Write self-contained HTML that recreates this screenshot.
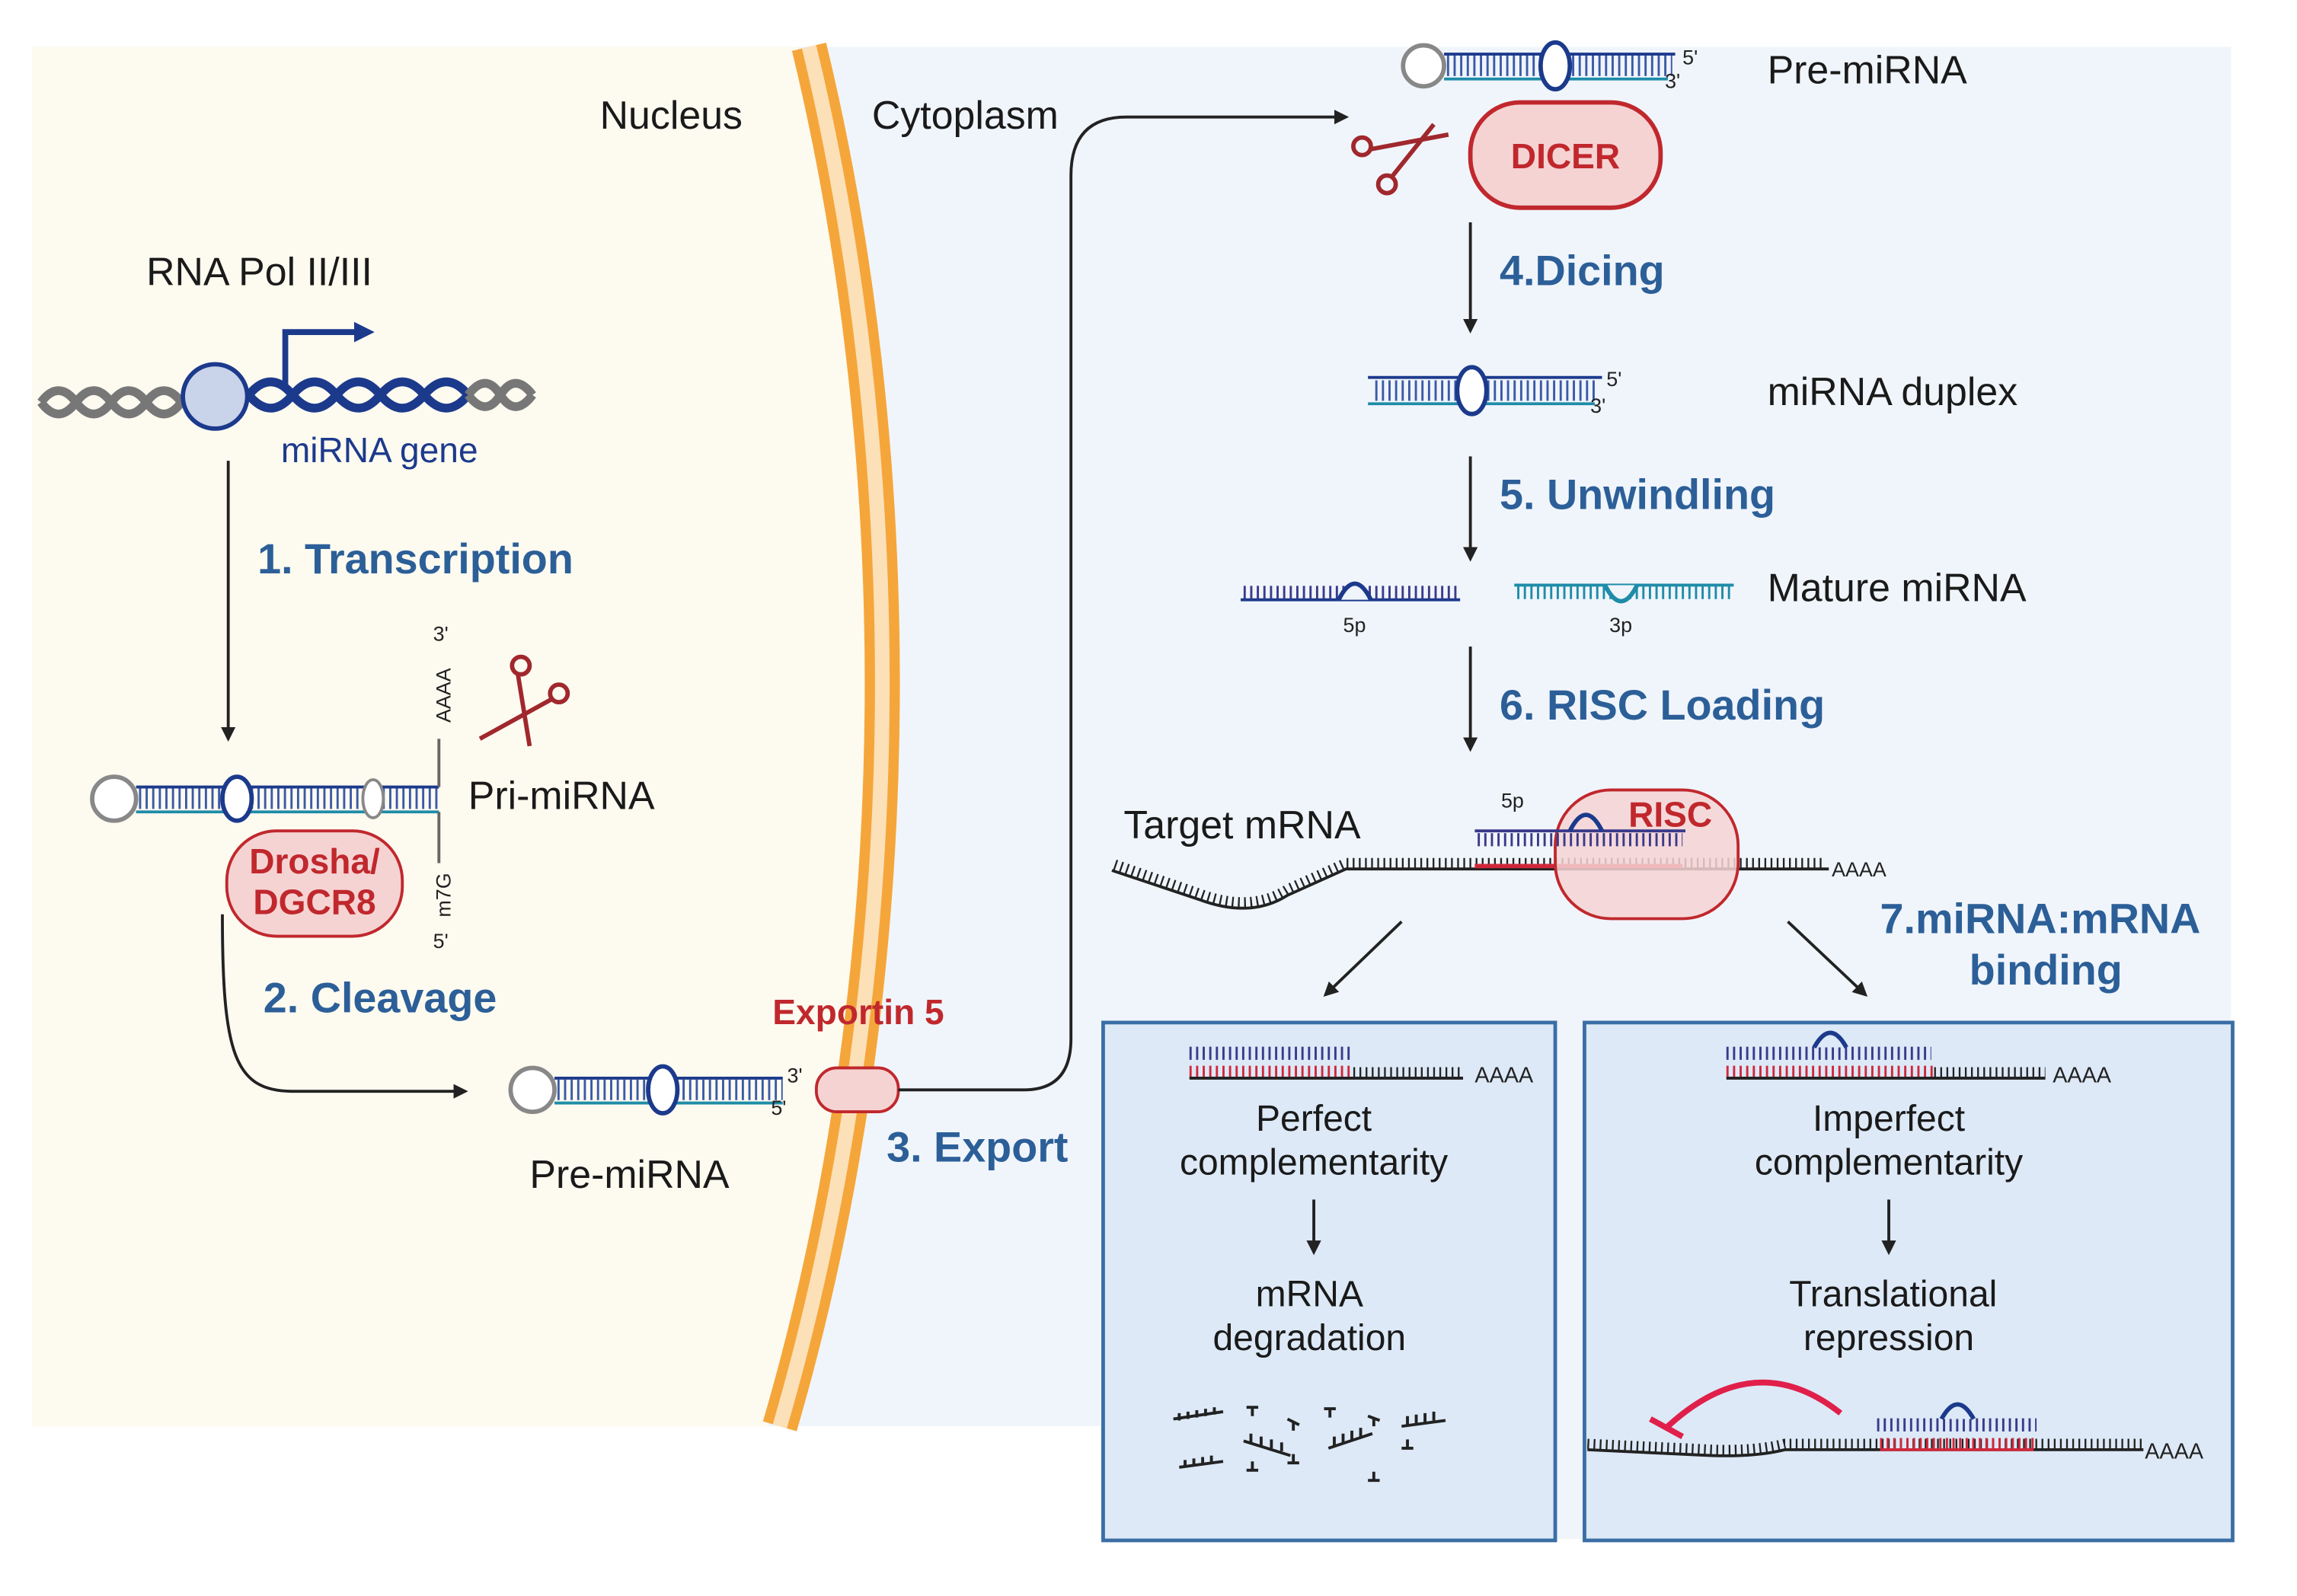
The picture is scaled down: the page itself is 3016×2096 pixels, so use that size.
<!DOCTYPE html>
<html><head><meta charset="utf-8">
<style>
html,body{margin:0;padding:0;background:#fff;}
svg{display:block;}
text{font-family:"Liberation Sans",sans-serif;}
.t{font-size:27px;fill:#1a1a1a;}
.s{font-size:29px;font-weight:bold;fill:#2c5f98;}
.r{font-size:24px;font-weight:bold;fill:#c0282d;}
.sm{font-size:14px;fill:#222;}
.bx{font-size:25px;fill:#1a1a1a;text-anchor:middle;}
</style></head>
<body>
<svg width="3016" height="2096" viewBox="0 0 1570 1091" preserveAspectRatio="none" xmlns="http://www.w3.org/2000/svg">
<defs>
<marker id="ah" markerWidth="10" markerHeight="10" refX="8" refY="5" orient="auto" markerUnits="userSpaceOnUse"><path d="M0,0 L10,5 L0,10 z" fill="#222"/></marker>
<marker id="bh" markerWidth="14" markerHeight="14" refX="6" refY="7" orient="auto" markerUnits="userSpaceOnUse"><path d="M0,0 L14,7 L0,14 z" fill="#1c3a8c"/></marker>
</defs>
<rect x="22" y="32" width="1503" height="1020" fill="#f0f5fb"/>
<path d="M22,32 L545,32 C610,300 620,650 525,975 L22,975 Z" fill="#fdfaf0"/>
<rect x="22" y="975" width="730" height="80" fill="#fff"/>
<rect x="1527" y="32" width="50" height="1030" fill="#fff"/>
<path d="M553,32 C618,300 628,650 533,975" fill="none" stroke="#f5a63a" stroke-width="24"/>
<path d="M553,32 C618,300 628,650 533,975" fill="none" stroke="#fce0b8" stroke-width="10"/>
<text class="t" x="410" y="88">Nucleus</text>
<text class="t" x="596" y="88">Cytoplasm</text>
<text class="t" x="100" y="195">RNA Pol II/III</text>
<path d="M28,275 q12,-16 24,0 t24,0 t24,0 t24,0 M28,275 q12,16 24,0 t24,0 t24,0 t24,0" fill="none" stroke="#777" stroke-width="6"/>
<path d="M170,270 q15,-18 30,0 t30,0 t30,0 t30,0 t30,0 M170,270 q15,18 30,0 t30,0 t30,0 t30,0 t30,0" fill="none" stroke="#1c3a8c" stroke-width="6"/>
<path d="M320,270 q12,-16 22,0 t22,0 M320,270 q12,16 22,0 t22,0" fill="none" stroke="#777" stroke-width="6"/>
<circle cx="147" cy="271" r="22" fill="#c9d3ea" stroke="#1c3a8c" stroke-width="3"/>
<path d="M195,265 L195,227 L248,227" fill="none" stroke="#1c3a8c" stroke-width="4" marker-end="url(#bh)"/>
<text x="192" y="316" style="font-size:24px;fill:#1c3a8c">miRNA gene</text>
<line x1="156" y1="315" x2="156" y2="505" stroke="#222" stroke-width="2" marker-end="url(#ah)"/>
<text class="s" x="176" y="392">1. Transcription</text>
<g>
<circle cx="78" cy="546" r="15" fill="#fff" stroke="#888" stroke-width="3"/>
<line x1="93" y1="538" x2="300" y2="538" stroke="#1c3a8c" stroke-width="2"/>
<line x1="93" y1="555" x2="300" y2="555" stroke="#1e8ca8" stroke-width="2"/>
<line x1="95" y1="546" x2="300" y2="546" stroke="#3a5aa8" stroke-width="14" stroke-dasharray="1.5 3"/>
<ellipse cx="162" cy="546" rx="10" ry="15" fill="#fff" stroke="#1c3a8c" stroke-width="3"/>
<ellipse cx="255" cy="546" rx="7" ry="13" fill="#fff" stroke="#888" stroke-width="2"/>
<line x1="300" y1="538" x2="300" y2="505" stroke="#666" stroke-width="2"/>
<line x1="300" y1="555" x2="300" y2="590" stroke="#666" stroke-width="2"/>
</g>
<text class="sm" x="296" y="438">3'</text>
<text class="sm" transform="translate(308,494) rotate(-90)">AAAA</text>
<text class="sm" transform="translate(308,627) rotate(-90)">m7G</text>
<text class="sm" x="296" y="648">5'</text>
<text class="t" x="320" y="553">Pri-miRNA</text>
<g stroke="#a0282d" stroke-width="3" fill="none"><circle cx="356" cy="455" r="6"/><circle cx="382" cy="474" r="6"/><line x1="354" y1="461" x2="362" y2="510"/><line x1="377" y1="478" x2="328" y2="505"/></g>
<rect x="155" y="568" width="120" height="72" rx="34" fill="#f6d3d3" stroke="#c0282d" stroke-width="2"/>
<text class="r" x="215" y="597" text-anchor="middle">Drosha/</text>
<text class="r" x="215" y="625" text-anchor="middle">DGCR8</text>
<path d="M152,625 C152,720 160,746 200,746 L318,746" fill="none" stroke="#222" stroke-width="2" marker-end="url(#ah)"/>
<text class="s" x="180" y="692">2. Cleavage</text>
<circle cx="364" cy="745" r="15" fill="#fff" stroke="#888" stroke-width="3"/>
<line x1="379" y1="737" x2="535" y2="737" stroke="#1c3a8c" stroke-width="2"/>
<line x1="379" y1="754" x2="535" y2="754" stroke="#1e8ca8" stroke-width="2"/>
<line x1="381" y1="745" x2="535" y2="745" stroke="#3a5aa8" stroke-width="14" stroke-dasharray="1.5 3"/>
<ellipse cx="453" cy="745" rx="10" ry="16" fill="#fff" stroke="#1c3a8c" stroke-width="3"/>
<text class="sm" x="538" y="740">3'</text><text class="sm" x="527" y="762">5'</text>
<text class="t" x="362" y="812">Pre-miRNA</text>
<text class="r" x="528" y="700">Exportin 5</text>
<rect x="558" y="730" width="56" height="30" rx="14" fill="#f6d3d3" stroke="#c0282d" stroke-width="2"/>
<path d="M614,745 L700,745 Q732,745 732,710 L732,120 Q732,80 770,80 L920,80" fill="none" stroke="#222" stroke-width="2" marker-end="url(#ah)"/>
<text class="s" x="606" y="794">3. Export</text>
<circle cx="973" cy="45" r="14" fill="#fff" stroke="#888" stroke-width="3"/>
<line x1="987" y1="37" x2="1145" y2="37" stroke="#1c3a8c" stroke-width="2"/>
<line x1="987" y1="54" x2="1140" y2="54" stroke="#1e8ca8" stroke-width="2"/>
<line x1="989" y1="45" x2="1143" y2="45" stroke="#3a5aa8" stroke-width="14" stroke-dasharray="1.5 3"/>
<ellipse cx="1063" cy="45" rx="10" ry="16" fill="#fff" stroke="#1c3a8c" stroke-width="3"/>
<text class="sm" x="1150" y="44">5'</text><text class="sm" x="1138" y="60">3'</text>
<text class="t" x="1208" y="57">Pre-miRNA</text>
<rect x="1005" y="70" width="130" height="72" rx="34" fill="#f6d3d3" stroke="#c0282d" stroke-width="3"/>
<text class="r" x="1070" y="115" text-anchor="middle">DICER</text>
<g stroke="#a0282d" stroke-width="3" fill="none"><circle cx="931" cy="100" r="6"/><circle cx="948" cy="126" r="6"/><line x1="937" y1="102" x2="990" y2="92"/><line x1="952" y1="120" x2="980" y2="85"/></g>
<line x1="1005" y1="152" x2="1005" y2="226" stroke="#222" stroke-width="2" marker-end="url(#ah)"/>
<text class="s" x="1025" y="195">4.Dicing</text>
<line x1="935" y1="258" x2="1095" y2="258" stroke="#1c3a8c" stroke-width="2"/>
<line x1="935" y1="276" x2="1090" y2="276" stroke="#1e8ca8" stroke-width="2"/>
<line x1="940" y1="267" x2="1093" y2="267" stroke="#3a5aa8" stroke-width="14" stroke-dasharray="1.5 3"/>
<ellipse cx="1006" cy="267" rx="10" ry="16" fill="#fff" stroke="#1c3a8c" stroke-width="3"/>
<text class="sm" x="1098" y="264">5'</text><text class="sm" x="1087" y="282">3'</text>
<text class="t" x="1208" y="277">miRNA duplex</text>
<line x1="1005" y1="312" x2="1005" y2="382" stroke="#222" stroke-width="2" marker-end="url(#ah)"/>
<text class="s" x="1025" y="348">5. Unwindling</text>
<line x1="848" y1="410" x2="998" y2="410" stroke="#1c3a8c" stroke-width="2"/>
<line x1="850" y1="405" x2="996" y2="405" stroke="#3a3a8a" stroke-width="9" stroke-dasharray="1.5 3"/>
<path d="M915,410 q11,-22 22,0" fill="#f0f5fb" stroke="#1c3a8c" stroke-width="3"/>
<text class="sm" x="918" y="432">5p</text>
<line x1="1035" y1="400" x2="1185" y2="400" stroke="#1e8ca8" stroke-width="2"/>
<line x1="1037" y1="405" x2="1183" y2="405" stroke="#1e8ca8" stroke-width="9" stroke-dasharray="1.5 3"/>
<path d="M1097,400 q11,22 22,0" fill="#f0f5fb" stroke="#1e8ca8" stroke-width="3"/>
<text class="sm" x="1100" y="432">3p</text>
<text class="t" x="1208" y="411">Mature miRNA</text>
<line x1="1005" y1="442" x2="1005" y2="512" stroke="#222" stroke-width="2" marker-end="url(#ah)"/>
<text class="s" x="1025" y="492">6. RISC Loading</text>
<text class="t" x="768" y="573">Target mRNA</text>
<path d="M760,595 L820,615 Q855,628 880,612 L920,594 L1250,594" fill="none" stroke="#222" stroke-width="2"/>
<path d="M762,591 L820,611 Q855,624 880,608 L920,590 L1245,590" fill="none" stroke="#222" stroke-width="7" stroke-dasharray="1.2 3"/>
<line x1="1008" y1="592" x2="1150" y2="592" stroke="#d0283a" stroke-width="3"/>
<rect x="1063" y="540" width="125" height="88" rx="38" fill="#f6d3d3" fill-opacity="0.85" stroke="#c0282d" stroke-width="2"/>
<line x1="1008" y1="568" x2="1152" y2="568" stroke="#3a3a8a" stroke-width="2"/>
<line x1="1010" y1="574" x2="1150" y2="574" stroke="#3a3a8a" stroke-width="9" stroke-dasharray="1.5 3"/>
<path d="M1073,568 q11,-22 22,0" fill="none" stroke="#1c3a8c" stroke-width="3"/>
<text class="sm" x="1026" y="552">5p</text>
<text class="r" x="1113" y="565">RISC</text>
<text class="sm" x="1252" y="599">AAAA</text>
<line x1="958" y1="630" x2="906" y2="680" stroke="#222" stroke-width="2" marker-end="url(#ah)"/>
<line x1="1222" y1="630" x2="1275" y2="680" stroke="#222" stroke-width="2" marker-end="url(#ah)"/>
<text class="s" x="1285" y="638">7.miRNA:mRNA</text>
<text class="s" x="1346" y="673">binding</text>
<rect x="754" y="699" width="309" height="354" fill="#dde9f7" stroke="#3a6ea5" stroke-width="2.5"/>
<rect x="1083" y="699" width="443" height="354" fill="#dde9f7" stroke="#3a6ea5" stroke-width="2.5"/>
<line x1="813" y1="720" x2="925" y2="720" stroke="#3a3a8a" stroke-width="9" stroke-dasharray="1.5 3"/>
<line x1="813" y1="733" x2="925" y2="733" stroke="#d0283a" stroke-width="9" stroke-dasharray="1.5 3"/>
<line x1="813" y1="737" x2="1000" y2="737" stroke="#222" stroke-width="2"/>
<line x1="925" y1="733" x2="1000" y2="733" stroke="#222" stroke-width="7" stroke-dasharray="1.2 3"/>
<text class="sm" x="1008" y="740" style="font-size:15px">AAAA</text>
<text class="bx" x="898" y="773">Perfect</text>
<text class="bx" x="898" y="803">complementarity</text>
<line x1="898" y1="820" x2="898" y2="856" stroke="#222" stroke-width="2" marker-end="url(#ah)"/>
<text class="bx" x="895" y="893">mRNA</text>
<text class="bx" x="895" y="923">degradation</text>
<g stroke="#222" stroke-width="2" fill="none">
<path d="M802,970 l34,-5 M806,966 v5 M812,965 v5 M818,964 v5 M824,963 v5 M830,962 v5"/>
<path d="M806,1003 l30,-4 M810,998 v5 M816,997 v5 M822,996 v5 M828,995 v5"/>
<path d="M850,985 l32,10 M855,980 v6 M862,982 v6 M869,984 v6 M876,986 v6"/>
<path d="M852,962 l8,0 M856,962 v6 M880,970 l8,4 M884,972 v6 M905,963 l8,0 M909,963 v6 M935,968 l8,3 M939,969 v6"/>
<path d="M908,990 l30,-10 M912,988 v-6 M918,986 v-6 M924,984 v-6 M930,982 v-6"/>
<path d="M958,975 l30,-4 M962,974 v-6 M968,973 v-6 M974,972 v-6 M980,971 v-6"/>
<path d="M852,1005 l8,0 M856,1005 v-6 M880,1000 l8,0 M884,1000 v-6 M935,1012 l8,0 M939,1012 v-6 M958,990 l8,0 M962,990 v-6"/>
</g>
<line x1="1180" y1="720" x2="1320" y2="720" stroke="#3a3a8a" stroke-width="9" stroke-dasharray="1.5 3"/>
<path d="M1240,716 q11,-20 22,0" fill="#dde9f7" stroke="#1c3a8c" stroke-width="3"/>
<line x1="1180" y1="733" x2="1322" y2="733" stroke="#d0283a" stroke-width="9" stroke-dasharray="1.5 3"/>
<line x1="1180" y1="737" x2="1398" y2="737" stroke="#222" stroke-width="2"/>
<line x1="1322" y1="733" x2="1398" y2="733" stroke="#222" stroke-width="7" stroke-dasharray="1.2 3"/>
<text class="sm" x="1403" y="740" style="font-size:15px">AAAA</text>
<text class="bx" x="1291" y="773">Imperfect</text>
<text class="bx" x="1291" y="803">complementarity</text>
<line x1="1291" y1="820" x2="1291" y2="856" stroke="#222" stroke-width="2" marker-end="url(#ah)"/>
<text class="bx" x="1294" y="893">Translational</text>
<text class="bx" x="1291" y="923">repression</text>
<path d="M1258,966 Q1200,920 1140,975" fill="none" stroke="#e0204a" stroke-width="4"/>
<line x1="1128" y1="970" x2="1150" y2="982" stroke="#e0204a" stroke-width="4"/>
<path d="M1085,991 L1170,995 Q1200,996 1220,991 L1465,991" fill="none" stroke="#222" stroke-width="2"/>
<path d="M1085,987 L1170,991 Q1200,992 1220,987 L1465,987" fill="none" stroke="#222" stroke-width="7" stroke-dasharray="1.2 3"/>
<line x1="1285" y1="987" x2="1390" y2="987" stroke="#d0283a" stroke-width="8" stroke-dasharray="1.5 3"/>
<line x1="1285" y1="991" x2="1390" y2="991" stroke="#d0283a" stroke-width="2"/>
<line x1="1283" y1="974" x2="1392" y2="974" stroke="#3a3a8a" stroke-width="9" stroke-dasharray="1.5 3"/>
<path d="M1327,970 q11,-20 22,0" fill="#dde9f7" stroke="#1c3a8c" stroke-width="3"/>
<text class="sm" x="1466" y="997" style="font-size:15px">AAAA</text>
</svg>
</body></html>
